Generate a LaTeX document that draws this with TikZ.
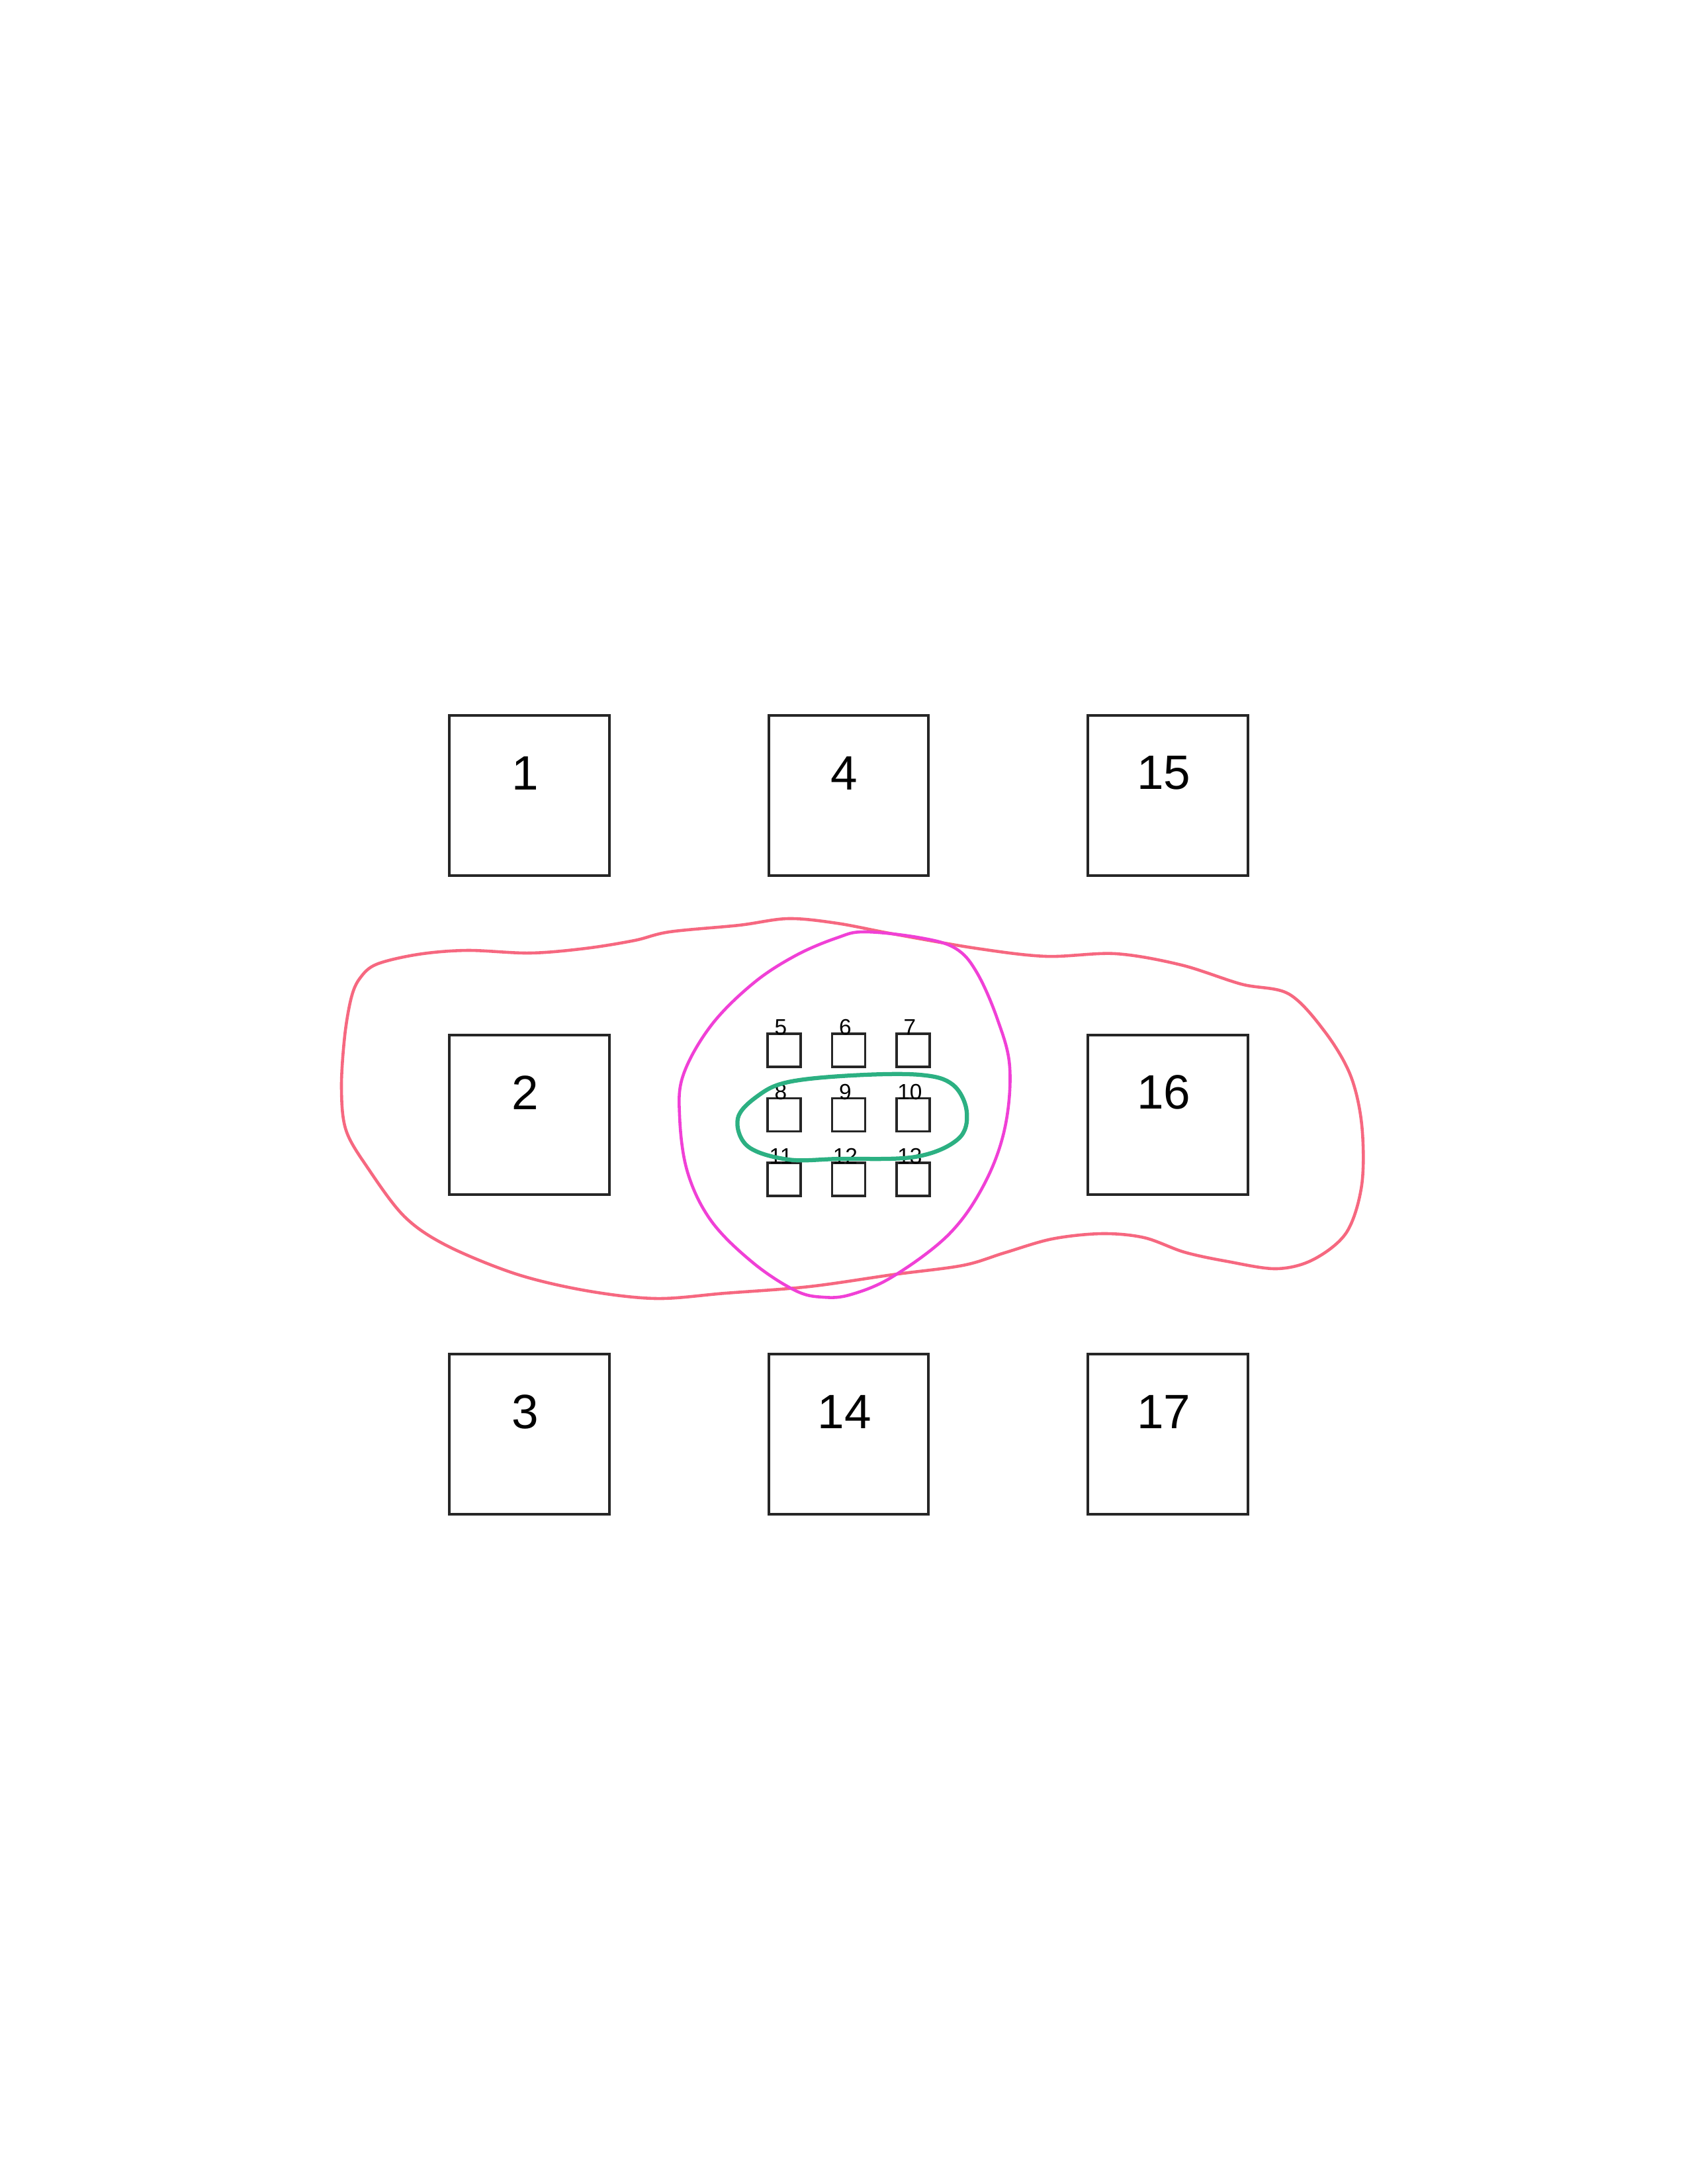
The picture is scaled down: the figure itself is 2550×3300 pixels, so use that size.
\documentclass[tikz,border=0pt]{standalone}
\usepackage{fontspec}
\setmainfont{Liberation Sans}
\usetikzlibrary{positioning}

\definecolor{blobred}{RGB}{246,104,128}
\definecolor{ringmagenta}{RGB}{240,64,214}
\definecolor{loopgreen}{RGB}{44,176,130}

\begin{document}
\begin{tikzpicture}[
    x=0.24pt, y=-0.24pt,
    node distance=56.9pt,
    bigbox/.style={rectangle, draw=black!85, line width=0.9pt, minimum size=58pt, inner sep=0pt, label={[biglabel]north:#1}},
    biglabel/.style={anchor=center, inner sep=0pt, xshift=-1.5pt, yshift=-21.3pt, font=\fontsize{17.5}{20}\selectfont},
    smallbox/.style={rectangle, draw=black!85, line width=0.9pt, minimum size=12pt, inner sep=0pt, label={[smalllabel]north:#1}},
    smalllabel/.style={anchor=base, inner sep=0pt, xshift=-1.2pt, yshift=-0.9pt, font=\fontsize{8}{9}\selectfont},
    outline/.style={line width=1.1pt, line cap=round, line join=round}
]
    \useasboundingbox (0,0) rectangle (2550,3300);

    % Big boxes
    \node[bigbox=1] (b1) at (800,1202) {};
    \node[bigbox=4, right=of b1] (b4) {};
    \node[bigbox=15, right=of b4] (b15) {};
    \node[bigbox=2, below=of b1] (b2) {};
    \node[bigbox=16, below=of b15] (b16) {};
    \node[bigbox=3, below=of b2] (b3) {};
    \node[bigbox=14, right=of b3] (b14) {};
    \node[bigbox=17, right=of b14] (b17) {};

    % Small boxes in the middle
    \node[smallbox=9] (s9) at (b2 -| b4) {};
    \node[smallbox=8, left=10.5pt of s9] (s8) {};
    \node[smallbox=10, right=10.5pt of s9] (s10) {};
    \node[smallbox=6, above=10.5pt of s9] (s6) {};
    \node[smallbox=5, left=10.5pt of s6] (s5) {};
    \node[smallbox=7, right=10.5pt of s6] (s7) {};
    \node[smallbox=12, below=10.5pt of s9] (s12) {};
    \node[smallbox=11, left=10.5pt of s12] (s11) {};
    \node[smallbox=13, right=10.5pt of s12] (s13) {};

    % Outlines
    \draw[outline, blobred] plot[smooth cycle, tension=0.55] coordinates {
        (531,1507) (544,1478) (569,1457) (632,1442) (706,1436) (801,1440) (885,1433)
        (959,1421) (1012,1408) (1117,1398) (1191,1388) (1265,1395) (1349,1411) (1476,1433)
        (1581,1445) (1686,1441) (1785,1458) (1876,1487) (1948,1502) (2003,1560) (2041,1625)
        (2058,1700) (2058,1790) (2035,1862) (1985,1903) (1929,1917) (1855,1906) (1790,1892)
        (1729,1870) (1665,1864) (1590,1872) (1518,1893) (1455,1912) (1349,1926) (1223,1944)
        (1096,1954) (991,1962) (885,1950) (780,1925) (675,1882) (611,1838) (556,1765)
        (523,1708) (516,1644) (521,1565)};
    \draw[outline, ringmagenta] plot[smooth cycle, tension=0.6] coordinates {
        (1307,1408) (1391,1417) (1444,1433) (1476,1469) (1507,1539) (1526,1613)
        (1518,1707) (1486,1792) (1433,1866) (1349,1929) (1286,1956) (1244,1960)
        (1202,1950) (1138,1908) (1075,1845) (1039,1771) (1027,1686) (1033,1623)
        (1075,1549) (1138,1486) (1202,1444) (1265,1417)};
    \draw[outline, loopgreen, line width=1.5pt] plot[smooth cycle, tension=0.6] coordinates {
        (1191,1635) (1287,1625) (1390,1624) (1440,1639)
        (1461,1680) (1448,1721) (1383,1748) (1268,1751)
        (1191,1752) (1130,1732) (1115,1690) (1145,1656)};
\end{tikzpicture}
\end{document}
